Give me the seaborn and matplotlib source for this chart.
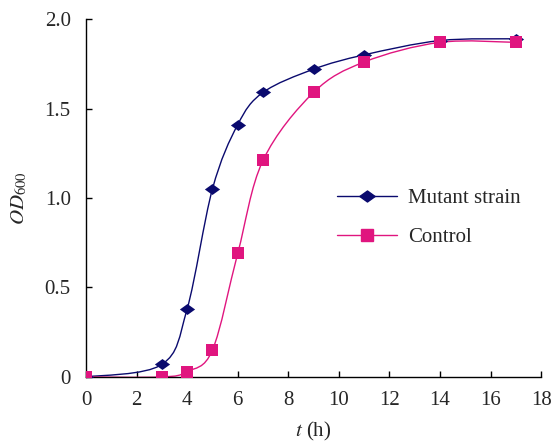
import numpy as np
import pandas as pd
import matplotlib
matplotlib.use('Agg')
import matplotlib.pyplot as plt
import seaborn as sns
from matplotlib.path import Path
from matplotlib.patches import PathPatch
from matplotlib.lines import Line2D

# data
time_h = [0, 3, 4, 5, 6, 7, 9, 11, 14, 17]
mutant_od = [0.0, 0.07, 0.38, 1.05, 1.41, 1.59, 1.72, 1.80, 1.88, 1.89]
control_od = [0.0, 0.0, 0.03, 0.15, 0.69, 1.21, 1.59, 1.76, 1.87, 1.87]

navy = '#0A0A6E'
pink = '#E0157F'

sns.set_style('ticks')
plt.rcParams['font.family'] = ['Liberation Serif', 'DejaVu Serif']
plt.rcParams['mathtext.fontset'] = 'stix'
plt.rcParams['xtick.direction'] = 'in'
plt.rcParams['ytick.direction'] = 'in'

df = pd.DataFrame({'t': time_h * 2,
                   'od': mutant_od + control_od,
                   'strain': ['Mutant strain'] * len(time_h) + ['Control'] * len(time_h)})

fig = plt.figure(figsize=(5.53, 4.44), dpi=100)
ax = fig.add_axes([0.1555, 0.151, 0.823, 0.806])

# flattened diamond like the Excel marker
diamond = Path([(-1, 0), (0, 0.72), (1, 0), (0, -0.72), (-1, 0)],
               [Path.MOVETO, Path.LINETO, Path.LINETO, Path.LINETO, Path.CLOSEPOLY])


def smooth_path(x, y):
    # Excel-style smoothed line (Catmull-Rom as cubic Bezier)
    pts = np.column_stack([x, y]).astype(float)
    n = len(pts)
    verts = [pts[0]]
    codes = [Path.MOVETO]
    for i in range(n - 1):
        p0 = pts[max(i - 1, 0)]
        p1 = pts[i]
        p2 = pts[i + 1]
        p3 = pts[min(i + 2, n - 1)]
        c1 = p1 + (p2 - p0) / 6.0
        c2 = p2 - (p3 - p1) / 6.0
        verts += [c1, c2, p2]
        codes += [Path.CURVE4] * 3
    return Path(verts, codes)


ax.add_patch(PathPatch(smooth_path(time_h, mutant_od), fill=False, edgecolor=navy, lw=1.0, zorder=2))
ax.add_patch(PathPatch(smooth_path(time_h, control_od), fill=False, edgecolor=pink, lw=1.0, zorder=2))

sns.scatterplot(data=df[df.strain == 'Mutant strain'], x='t', y='od', marker=diamond, s=120,
                color=navy, edgecolor=navy, linewidth=0, ax=ax, zorder=3, legend=False)
sns.scatterplot(data=df[df.strain == 'Control'], x='t', y='od', marker='s', s=64,
                color=pink, edgecolor=pink, linewidth=0, ax=ax, zorder=3, legend=False)

ax.set_xlim(0, 18)
ax.set_ylim(0, 2.0)
ax.set_xticks(range(0, 19, 2))
ax.set_yticks([0, 0.5, 1.0, 1.5, 2.0])
ax.set_yticklabels(['0', '0.5', '1.0', '1.5', '2.0'])
ax.tick_params(labelsize=15, length=4, width=1, color='black')
ax.tick_params(axis='x', pad=10)
ax.tick_params(axis='y', pad=11)
ax.set_xlabel('$t$ (h)', fontsize=15, labelpad=7)
ax.set_ylabel('$OD_{600}$', fontsize=15, labelpad=11)
sns.despine(ax=ax)
for sp in ['left', 'bottom']:
    ax.spines[sp].set_linewidth(1)
    ax.spines[sp].set_color('black')

handles = [Line2D([], [], color=navy, marker=diamond, markersize=11, lw=1),
           Line2D([], [], color=pink, marker='s', markersize=8, lw=1)]
ax.legend(handles, ['Mutant strain', 'Control'], frameon=False, fontsize=15,
          loc='center left', bbox_to_anchor=(0.51, 0.445), handlelength=2.9,
          handletextpad=0.5, labelspacing=0.95)

fig.savefig('out.png', dpi=100)
